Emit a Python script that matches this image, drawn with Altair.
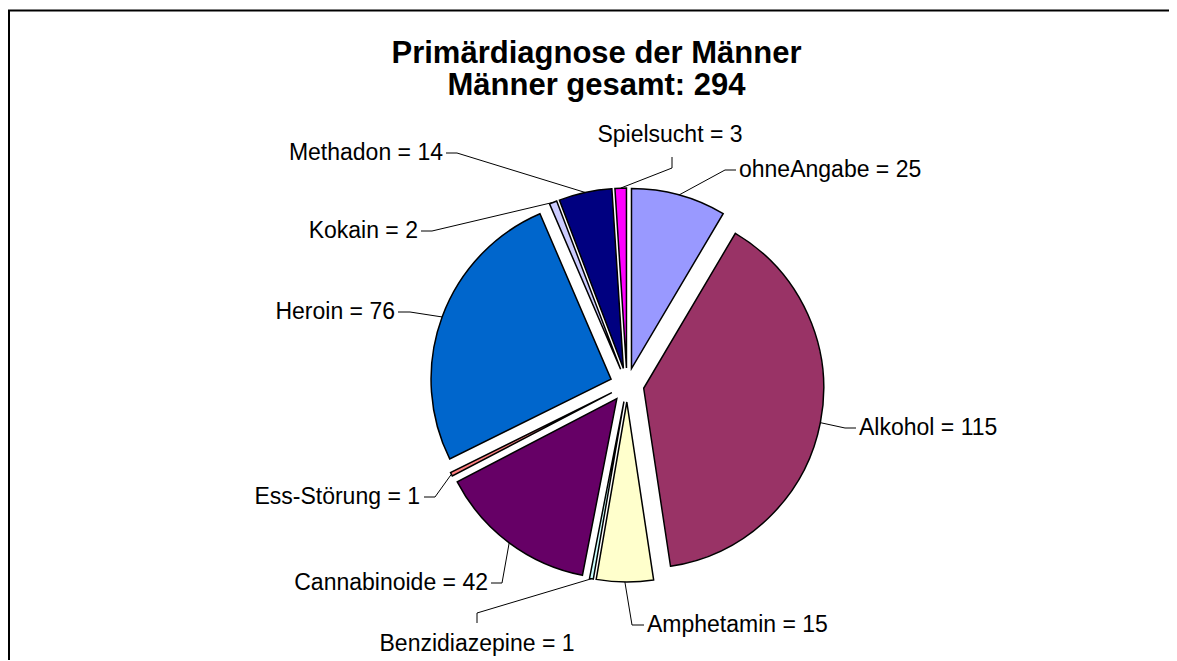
import altair as alt
import numpy as np
import pandas as pd

# ---------------- data ----------------
categories = ["ohneAngabe", "Alkohol", "Amphetamin", "Benzidiazepine", "Cannabinoide",
              "Ess-Störung", "Heroin", "Kokain", "Methadon", "Spielsucht"]
values = [25, 115, 15, 1, 42, 1, 76, 2, 14, 3]
colors = ["#9999FF", "#993366", "#FFFFCC", "#CCFFFF", "#660066",
          "#FF8080", "#0066CC", "#CCCCFF", "#000080", "#FF00FF"]
title_lines = ["Primärdiagnose der Männer", "Männer gesamt: " + str(sum(values))]

# ---------------- layout (pixels, relative to pie centre, y down) ----------------
W, H = 1161, 652
CX, CY = 619, 377
R = 180
EXPLODE = 17
FONT = "Liberation Sans"

# text x, text baseline y, line end (x, y), elbow (x, y), alignment
label_layout = {
    "ohneAngabe":     (112, -208, 109, -215, 98, -215, "left"),
    "Alkohol":        (232, 50, 229, 43, 218, 43, "left"),
    "Amphetamin":     (20, 247, 17, 240, 5, 240, "left"),
    "Benzidiazepine": (-150, 266, -150, 238, -150, 228, "center"),
    "Cannabinoide":   (-139, 205, -136, 198, -125, 198, "right"),
    "Ess-Störung":    (-207, 119, -203, 112, -192, 112, "right"),
    "Heroin":         (-232, -66, -229, -73, -217, -73, "right"),
    "Kokain":         (-209, -147, -206, -154, -195, -154, "right"),
    "Methadon":       (-184, -225, -181, -232, -170, -232, "right"),
    "Spielsucht":     (43, -243, 45, -228, 45, -217, "center"),
}

total = sum(values)
v = np.array(values, dtype=float)
a1 = np.cumsum(v) / total * 2 * np.pi
a0 = a1 - v / total * 2 * np.pi
mid = (a0 + a1) / 2
ax = EXPLODE * np.sin(mid)
ay = -EXPLODE * np.cos(mid)
edge_x = ax + R * np.sin(mid)
edge_y = ay - R * np.cos(mid)

slices = pd.DataFrame({
    "cat": categories, "value": values, "a0": a0, "a1": a1, "ax": ax, "ay": ay,
})

line_rows, text_rows = [], []
for i, c in enumerate(categories):
    tx, ty, lx, ly, ex, ey, al = label_layout[c]
    line_rows += [
        {"cat": c, "k": 0, "x": edge_x[i], "y": edge_y[i]},
        {"cat": c, "k": 1, "x": ex, "y": ey},
        {"cat": c, "k": 2, "x": lx, "y": ly},
    ]
    text_rows.append({"cat": c, "label": f"{c} = {values[i]}", "x": tx, "y": ty, "align": al})
lines = pd.DataFrame(line_rows)
texts = pd.DataFrame(text_rows)

xs = alt.Scale(domain=[-CX, W - CX], range=[0, W], nice=False, zero=False)
ys = alt.Scale(domain=[-CY, H - CY], range=[0, H], nice=False, zero=False)

pie = alt.Chart(slices).mark_arc(radius=R, stroke="black", strokeWidth=1.5).encode(
    x=alt.X("ax:Q", scale=xs, axis=None),
    y=alt.Y("ay:Q", scale=ys, axis=None),
    theta=alt.Theta("a0:Q", scale=None),
    theta2=alt.Theta2("a1:Q"),
    color=alt.Color("cat:N", scale=alt.Scale(domain=categories, range=colors), legend=None),
)

leaders = alt.Chart(lines).mark_line(color="black", strokeWidth=1).encode(
    x=alt.X("x:Q", scale=xs, axis=None),
    y=alt.Y("y:Q", scale=ys, axis=None),
    detail="cat:N",
    order="k:O",
)

def label_layer(al):
    return alt.Chart(texts).transform_filter(alt.datum.align == al).mark_text(
        align=al, baseline="alphabetic", font=FONT, fontSize=23, color="black"
    ).encode(
        x=alt.X("x:Q", scale=xs, axis=None),
        y=alt.Y("y:Q", scale=ys, axis=None),
        text="label:N",
    )

one = pd.DataFrame({"k": [0]})
title1 = alt.Chart(one).mark_text(align="center", baseline="alphabetic", font=FONT,
                                  fontSize=31, fontWeight="bold", color="black").encode(
    x=alt.value(588.5), y=alt.value(55), text=alt.value(title_lines[0]))
title2 = alt.Chart(one).mark_text(align="center", baseline="alphabetic", font=FONT,
                                  fontSize=31, fontWeight="bold", color="black").encode(
    x=alt.value(588.5), y=alt.value(87), text=alt.value(title_lines[1]))

border_top = alt.Chart(one).mark_rule(color="black", strokeWidth=2).encode(
    x=alt.value(0), x2=alt.value(W), y=alt.value(2.5))
border_left = alt.Chart(one).mark_rule(color="black", strokeWidth=2).encode(
    x=alt.value(1), y=alt.value(2), y2=alt.value(H))

chart = alt.layer(
    border_top, border_left, leaders, pie,
    label_layer("left"), label_layer("right"), label_layer("center"),
    title1, title2,
).resolve_scale(x="shared", y="shared").properties(
    width=W, height=H, autosize=alt.AutoSizeParams(type="none"), padding=0,
).configure_view(stroke=None)

chart.save("out.html", embed_options={"renderer": "svg", "actions": False})
